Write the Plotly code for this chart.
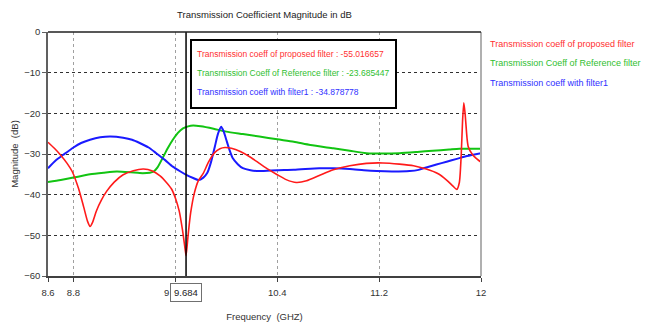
import plotly.graph_objects as go

# ---- data ----
red_f = [8.60, 8.65, 8.70, 8.75, 8.79, 8.84, 8.88, 8.91, 8.93, 8.95, 8.98, 9.02, 9.06, 9.12,
         9.19, 9.27, 9.35, 9.42, 9.48, 9.53, 9.57, 9.60, 9.63, 9.655, 9.675, 9.684, 9.70,
         9.72, 9.75, 9.78, 9.82, 9.86, 9.91, 9.95, 9.99, 10.04, 10.11, 10.19, 10.26, 10.33,
         10.40, 10.47, 10.55, 10.63, 10.73, 10.84, 10.97, 11.10, 11.23, 11.36, 11.47, 11.57,
         11.66, 11.73, 11.78, 11.81, 11.83, 11.845, 11.855, 11.865, 11.875, 11.89, 11.90,
         11.93, 11.96, 12.0]
red_db = [-27.1, -28.6, -30.3, -32.3, -34.3, -38.5, -43.0, -46.5, -47.8, -46.8, -44.0, -41.3,
          -39.2, -36.9, -35.1, -34.1, -33.7, -34.2, -35.4, -37.0, -38.6, -40.8, -44.0, -48.5,
          -53.0, -55.0, -50.0, -44.5, -39.5, -36.6, -34.7, -32.0, -29.6, -28.7, -28.4, -28.6,
          -29.4, -30.8, -32.3, -33.8, -35.1, -36.3, -37.0, -36.6, -35.3, -33.9, -32.9, -32.3,
          -32.2, -32.5, -32.9, -33.7, -34.8, -36.4, -37.9, -38.7, -37.0, -30.0, -22.0, -17.4,
          -20.0, -26.0, -28.2, -30.0, -31.0, -32.0]

green_f = [8.60, 8.70, 8.80, 8.93, 9.04, 9.14, 9.25, 9.32, 9.40, 9.43, 9.46, 9.50, 9.54, 9.58,
           9.62, 9.66, 9.70, 9.74, 9.80, 9.90, 10.00, 10.13, 10.26, 10.40, 10.53, 10.66, 10.84,
           10.97, 11.10, 11.23, 11.36, 11.50, 11.62, 11.75, 11.83, 12.0]
green_db = [-36.9, -36.4, -35.8, -35.0, -34.6, -34.3, -34.5, -34.7, -34.6, -34.3, -33.3, -31.0,
            -28.6, -26.5, -24.8, -23.7, -23.2, -23.0, -23.2, -23.8, -24.5, -25.1, -25.7, -26.4,
            -27.0, -27.8, -28.6, -29.2, -29.8, -29.9, -29.8, -29.5, -29.2, -28.9, -28.7, -28.7]

blue_f = [8.60, 8.66, 8.72, 8.80, 8.86, 8.93, 9.01, 9.09, 9.19, 9.26, 9.32, 9.39, 9.45, 9.52,
          9.58, 9.64, 9.69, 9.74, 9.78, 9.82, 9.85, 9.88, 9.91, 9.935, 9.96, 9.98, 10.00,
          10.025, 10.05, 10.09, 10.13, 10.19, 10.26, 10.40, 10.53, 10.73, 10.84, 10.97, 11.08,
          11.18, 11.30, 11.44, 11.51, 11.57, 11.65, 11.73, 11.81, 11.89, 12.0]
blue_db = [-33.5, -31.6, -30.2, -28.4, -27.3, -26.5, -25.9, -25.7, -26.0, -26.5, -27.3, -28.4,
           -29.8, -31.5, -33.1, -34.3, -35.2, -35.9, -36.4, -35.8, -34.7, -32.0, -28.2, -25.0,
           -23.3, -24.5, -26.5, -29.0, -31.0, -32.5, -33.5, -34.0, -34.2, -34.0, -33.9, -33.5,
           -33.5, -33.7, -34.0, -34.2, -34.3, -34.2, -33.9, -33.3, -32.6, -31.9, -31.2, -30.5,
           -29.8]

names = ["Transmission coeff of proposed filter",
         "Transmission Coeff of Reference filter",
         "Transmission coeff with filter1"]
marker_f = 9.684
marker_vals = ["-55.016657", "-23.685447", "-34.878778"]
x_ticks = [8.6, 8.8, 9.6, 10.4, 11.2, 12]
x_ticktext = ["8.6", "8.8", "", "10.4", "11.2", "12"]
y_ticks = [0, -10, -20, -30, -40, -50, -60]

colors = ["#ff1a1a", "#12c412", "#1a1aff"]
text_colors = ["#ff3030", "#30c030", "#3030ff"]
FONT = "Liberation Sans, Arial, sans-serif"
FS = 9

# plot-area pixel geometry (for placing text boxes)
L, R, T, B = 48, 481, 32, 276
W, H = R - L, B - T


def px(xp):
    return (xp - L) / W


def py(yp):
    return 1 - (yp - T) / H


fig = go.Figure()
for f, d, c, w in [(green_f, green_db, colors[1], 2), (blue_f, blue_db, colors[2], 2),
                   (red_f, red_db, colors[0], 1.6)]:
    fig.add_trace(go.Scatter(x=f, y=d, mode="lines",
                             line=dict(color=c, width=w, shape="spline", smoothing=0.6),
                             showlegend=False, hoverinfo="skip"))

# cursor line
fig.add_shape(type="line", x0=marker_f, x1=marker_f, y0=-60, y1=0, xref="x", yref="y",
              line=dict(color="black", width=1.5))
# right border
fig.add_shape(type="line", x0=1, x1=1, y0=0, y1=1, xref="paper", yref="paper",
              line=dict(color="#b0b0b0", width=2))
# top border
fig.add_shape(type="line", x0=0, x1=1, y0=1, y1=1, xref="paper", yref="paper",
              line=dict(color="#202020", width=1.5))
# readout box
fig.add_shape(type="rect", x0=px(191), x1=px(396), y0=py(108), y1=py(40),
              xref="paper", yref="paper", line=dict(color="black", width=2),
              fillcolor="white", layer="above")

anns = []
for i, (n, v) in enumerate(zip(names, marker_vals)):
    anns.append(dict(text=f"{n} : {v}", x=px(195), y=py(54 + 19 * i), xref="paper", yref="paper",
                     xanchor="left", yanchor="middle", showarrow=False,
                     font=dict(family=FONT, size=8.5, color=text_colors[i])))
for i, n in enumerate(names):
    anns.append(dict(text=n, x=px(488), y=py(44 + 19.5 * i), xref="paper", yref="paper",
                     xanchor="left", yanchor="middle", showarrow=False,
                     font=dict(family=FONT, size=FS, color=text_colors[i])))
# x marker label and the partially hidden "9"
anns.append(dict(text=str(marker_f), x=marker_f, y=py(292.5), xref="x", yref="paper",
                 yanchor="middle", showarrow=False, bgcolor="white", bordercolor="#707070",
                 borderwidth=1, borderpad=3, font=dict(family=FONT, size=FS + 0.5, color="#222")))
anns.append(dict(text="9", x=px(171), y=py(292.5), xref="paper", yref="paper",
                 xanchor="right", yanchor="middle", showarrow=False,
                 font=dict(family=FONT, size=FS + 0.5, color="#333")))
fig.update_layout(annotations=anns)

fig.update_layout(
    width=648, height=323,
    margin=dict(l=L, r=648 - R, t=T, b=323 - B),
    paper_bgcolor="white", plot_bgcolor="white",
    title=dict(text="Transmission Coefficient Magnitude in dB", x=(L + W / 2) / 648,
               xanchor="center", y=1 - 15 / 323, yanchor="middle",
               font=dict(family=FONT, size=FS + 0.5, color="#222")),
    font=dict(family=FONT, size=FS, color="#333"),
    xaxis=dict(range=[8.6, 12], tickvals=x_ticks, ticktext=x_ticktext, showgrid=True,
               gridcolor="#a0a0a0", griddash="dot", gridwidth=1.3, zeroline=False,
               showline=True, linecolor="#404040", linewidth=1.5, ticks="outside", ticklen=4,
               tickcolor="#404040", automargin=False, ticklabelstandoff=3,
               title=dict(text="Frequency  (GHZ)", standoff=16,
                          font=dict(family=FONT, size=FS + 0.5, color="#333")),
               tickfont=dict(family=FONT, size=FS + 0.5, color="#333")),
    yaxis=dict(range=[-60, 0], tickvals=y_ticks, showgrid=True, gridcolor="#303030",
               griddash="dot", gridwidth=1, zeroline=False, showline=True, linecolor="#606060",
               linewidth=1.5, ticks="outside", ticklen=4, tickcolor="#606060", automargin=False,
               title=dict(text="Magnitude  (dB)", standoff=4,
                          font=dict(family=FONT, size=FS + 0.5, color="#333")),
               tickfont=dict(family=FONT, size=FS + 0.5, color="#333")),
)
fig.write_html("out.html")
